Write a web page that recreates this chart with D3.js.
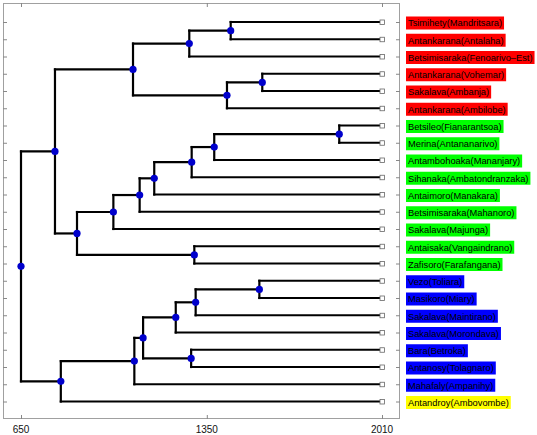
<!DOCTYPE html>
<html><head><meta charset="utf-8">
<script src="https://cdn.jsdelivr.net/npm/d3@7"></script>
<style>body{margin:0;background:#fff}svg{display:block}</style>
</head><body>
<svg id="c" width="537" height="435"></svg>
<script>
// Leaves, top to bottom
const leaves = ["Tsimihety(Mandritsara)","Antankarana(Antalaha)","Betsimisaraka(Fenoarivo\u2013Est)","Antankarana(Vohemar)","Sakalava(Ambanja)","Antankarana(Ambilobe)","Betsileo(Fianarantsoa)","Merina(Antananarivo)","Antambohoaka(Mananjary)","Sihanaka(Ambatondranzaka)","Antaimoro(Manakara)","Betsimisaraka(Mahanoro)","Sakalava(Majunga)","Antaisaka(Vangaindrano)","Zafisoro(Farafangana)","Vezo(Toliara)","Masikoro(Miary)","Sakalava(Maintirano)","Sakalava(Morondava)","Bara(Betroka)","Antanosy(Tolagnaro)","Mahafaly(Ampanihy)","Antandroy(Ambovombe)"];
const leafGroup = ["red","red","red","red","red","red","green","green","green","green","green","green","green","green","green","blue","blue","blue","blue","blue","blue","blue","yellow"];
const leafYear = 2010;
// Internal nodes: [childA, childB, year]
const nodeChildA = ["L0","N0","L3","N2","N1","L6","N5","N6","N7","N8","N9","L13","N10","N4","L15","N14","N15","L19","N16","N18","N19","N13"];
const nodeChildB = ["L1","L2","L4","L5","N3","L7","L8","L9","L10","L11","L12","L14","N11","N12","L16","L17","L18","L20","N17","L21","L22","N20"];
const nodeYear  = [1440,1284,1559,1426,1072,1849,1378,1293,1152,1097,998,1303,861,778,1548,1308,1233,1291,1110,1077,800,650];
const tickValues = [650,1350,2010];
const groupColors = {red:"#ff0000",green:"#00ff00",blue:"#0000ff",yellow:"#ffff00"};

const svg = d3.select("#c");
const x = d3.scaleLinear().domain([650,2010]).range([21,382]);
const y = d3.scalePoint().domain(leaves).range([22,401.5]);

function build(id){
  if(id[0]==="L"){const i=+id.slice(1);return {name:leaves[i],year:leafYear,group:leafGroup[i]};}
  const k=+id.slice(1);
  return {year:nodeYear[k],children:[build(nodeChildA[k]),build(nodeChildB[k])]};
}
const root = d3.hierarchy(build("N"+(nodeYear.length-1)));
root.eachAfter(d=>{
  d.px = x(d.data.year);
  d.py = d.children ? (d.children[0].py+d.children[d.children.length-1].py)/2 : y(d.data.name);
});

const fL=3,fR=400,fT=3,fB=419;
svg.append("rect").attr("x",fL+0.5).attr("y",fT+0.5).attr("width",fR-fL-1).attr("height",fB-fT-1)
  .attr("fill","none").attr("stroke","#a0a0a0").attr("stroke-width",1);

const gb = svg.append("g").attr("transform",`translate(0,${fB})`);
gb.selectAll("line.t").data(tickValues).join("line").attr("class","t").attr("x1",d=>x(d)+0.5).attr("x2",d=>x(d)+0.5).attr("y1",0).attr("y2",-4).attr("stroke","#888");
gb.selectAll("line.t2").data(tickValues).join("line").attr("class","t2").attr("x1",d=>x(d)+0.5).attr("x2",d=>x(d)+0.5).attr("y1",fT-fB).attr("y2",fT-fB+4).attr("stroke","#888");
gb.selectAll("text").data(tickValues).join("text").attr("x",d=>x(d)).attr("y",13.5)
  .attr("text-anchor","middle").attr("font-family","Liberation Sans, Arial, sans-serif").attr("font-size",10).attr("fill","#111").text(d=>d);
const gy = svg.append("g");
gy.selectAll("line.l").data(leaves).join("line").attr("class","l").attr("x1",fL).attr("x2",fL+4).attr("y1",d=>y(d)+0.5).attr("y2",d=>y(d)+0.5).attr("stroke","#888");
gy.selectAll("line.r").data(leaves).join("line").attr("class","r").attr("x1",fR-4).attr("x2",fR).attr("y1",d=>y(d)+0.5).attr("y2",d=>y(d)+0.5).attr("stroke","#888");

const gl = svg.append("g").attr("stroke","#000").attr("stroke-width",2.2).attr("fill","none").attr("stroke-linecap","square");
root.descendants().filter(d=>d.parent).forEach(d=>{
  gl.append("path").attr("d",`M${d.parent.px},${d.py}H${d.px}`);
});
root.descendants().filter(d=>d.children).forEach(d=>{
  gl.append("path").attr("d",`M${d.px},${d.children[0].py}V${d.children[d.children.length-1].py}`);
});
svg.append("g").selectAll("rect").data(root.leaves()).join("rect")
  .attr("x",d=>d.px-2).attr("y",d=>d.py-2).attr("width",4.5).attr("height",4.5)
  .attr("fill","#fff").attr("stroke","#666").attr("stroke-width",0.8);
svg.append("g").selectAll("circle").data(root.descendants().filter(d=>d.children)).join("circle")
  .attr("cx",d=>d.px).attr("cy",d=>d.py).attr("r",3.6).attr("fill","#0000cc");

const gt = svg.append("g");
root.leaves().forEach(d=>{
  const g = gt.append("g");
  const r = g.append("rect");
  const t = g.append("text").attr("x",408).attr("y",d.py+4.3).attr("font-family","Liberation Sans, Arial, sans-serif")
    .attr("font-size",9.3).attr("fill","#000").text(d.data.name);
  const w = t.node().getComputedTextLength();
  r.attr("x",406).attr("y",d.py-5.5).attr("width",w+4).attr("height",13)
   .attr("fill",groupColors[d.data.group]);
});
</script>
</body></html>
